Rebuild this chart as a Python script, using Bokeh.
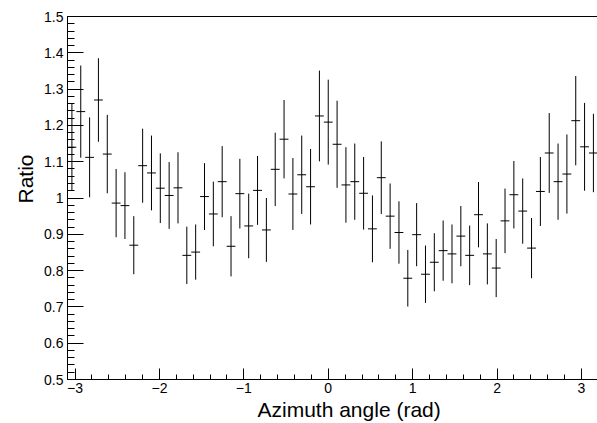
import numpy as np
from bokeh.plotting import figure
from bokeh.models import (Range1d, FixedTicker, CustomJSTickFormatter, Title,
                          LinearAxis, ColumnDataSource)
from bokeh.embed import file_html
from bokeh.resources import INLINE

# ---- data -------------------------------------------------------------
n_bins = 60                      # bins of width 2*pi/60 over the azimuth
bin_index = list(range(-29, 31)) # bin centres at k*pi/30
ratio = [1.140, 1.238, 1.112, 1.270, 1.121, 0.986, 0.979, 0.870, 1.089, 1.069,
         1.027, 1.007, 1.028, 0.842, 0.851, 1.004, 0.956, 1.045, 0.867, 1.012,
         0.923, 1.021, 0.912, 1.079, 1.162, 1.011, 1.064, 1.031, 1.226, 1.209,
         1.148, 1.036, 1.045, 1.013, 0.915, 1.056, 0.950, 0.905, 0.779, 0.899,
         0.790, 0.823, 0.855, 0.846, 0.895, 0.842, 0.954, 0.846, 0.807, 0.937,
         1.009, 0.964, 0.862, 1.018, 1.124, 1.045, 1.066, 1.213, 1.141, 1.124]
ratio_err = [0.119, 0.127, 0.110, 0.115, 0.108, 0.094, 0.092, 0.080, 0.102, 0.103,
             0.096, 0.092, 0.098, 0.079, 0.076, 0.092, 0.089, 0.098, 0.083, 0.096,
             0.089, 0.095, 0.088, 0.101, 0.108, 0.099, 0.108, 0.104, 0.125, 0.117,
             0.120, 0.104, 0.105, 0.100, 0.092, 0.100, 0.090, 0.086, 0.078, 0.087,
             0.079, 0.080, 0.083, 0.081, 0.083, 0.082, 0.090, 0.084, 0.080, 0.089,
             0.093, 0.090, 0.083, 0.095, 0.110, 0.105, 0.109, 0.123, 0.121, 0.108]
x_ticks = [-3, -2, -1, 0, 1, 2, 3]
y_ticks = [0.5, 0.6, 0.7, 0.8, 0.9, 1.0, 1.1, 1.2, 1.3, 1.4, 1.5]
x_title = "Azimuth angle (rad)"
y_title = "Ratio"

# ---- derived ----------------------------------------------------------
bw = 2 * np.pi / n_bins
xc = np.array(bin_index) * bw
val = np.array(ratio)
er = np.array(ratio_err)
src = ColumnDataSource(dict(x=xc, xl=xc - bw / 2, xr=xc + bw / 2,
                            y=val, lo=val - er, hi=val + er))

FONT = "Liberation Sans"

p = figure(width=597, height=423, output_backend="svg", toolbar_location=None,
           x_range=Range1d(-29.5 * bw, 3.19), y_range=Range1d(0.5, 1.5),
           min_border_left=67, min_border_right=0, min_border_top=16,
           min_border_bottom=44, outline_line_color=None,
           background_fill_color="white", border_fill_color="white")
p.grid.visible = False

p.segment(x0="x", y0="lo", x1="x", y1="hi", source=src, line_color="black", line_width=1)
p.segment(x0="xl", y0="y", x1="xr", y1="y", source=src, line_color="black", line_width=1)

xminor = [round(v, 2) for v in np.arange(-3.0, 3.01, 0.2)]
yminor = [round(v, 2) for v in np.arange(0.5, 1.501, 0.02)]
p.xaxis.ticker = FixedTicker(ticks=x_ticks, minor_ticks=xminor)
p.yaxis.ticker = FixedTicker(ticks=y_ticks, minor_ticks=yminor)
p.xaxis.formatter = CustomJSTickFormatter(
    code="return (tick < 0 ? '\u2212' : '') + Math.abs(tick).toFixed(0);")
p.yaxis.formatter = CustomJSTickFormatter(
    code="return tick.toFixed(1).replace(/\\.0$/, '');")

for ax, maj, mnr in ((p.xaxis, 11, 5), (p.yaxis, 16, 7)):
    ax.major_tick_in = maj
    ax.major_tick_out = 0
    ax.minor_tick_in = mnr
    ax.minor_tick_out = 0
    ax.axis_line_color = "black"
    ax.major_tick_line_color = "black"
    ax.minor_tick_line_color = "black"
    ax.major_label_text_font = FONT
    ax.major_label_text_font_size = "14px"
    ax.major_label_text_color = "black"
p.xaxis.major_label_standoff = 3
p.yaxis.major_label_standoff = 4

top = LinearAxis(ticker=FixedTicker(ticks=[]), major_tick_in=0, major_tick_out=0,
                 minor_tick_in=0, minor_tick_out=0, major_label_standoff=0,
                 axis_line_color="black")
p.add_layout(top, "above")

p.add_layout(Title(text=x_title, align="left", offset=190, standoff=0,
                   text_font=FONT, text_font_size="21px",
                   text_font_style="normal", text_color="black"), "below")
p.add_layout(Title(text=y_title, align="left", offset=176, standoff=9,
                   text_font=FONT, text_font_size="21px",
                   text_font_style="normal", text_color="black"), "left")

open("out.html", "w").write(file_html(p, INLINE))
